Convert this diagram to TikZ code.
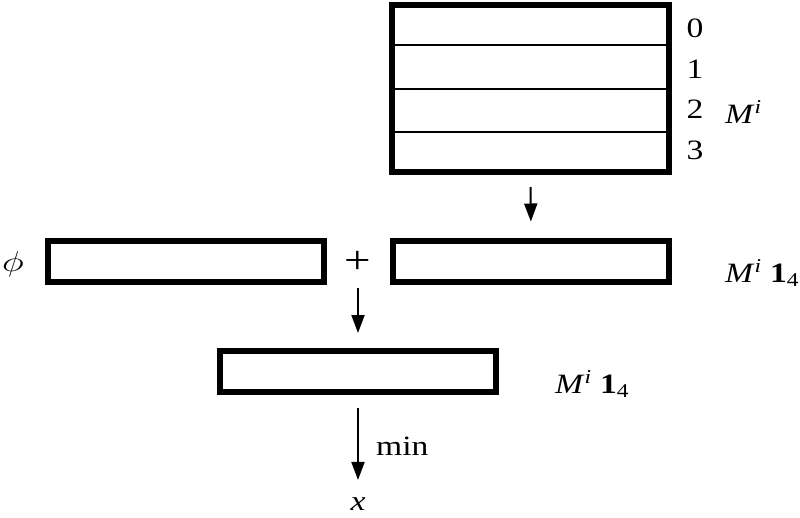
\documentclass[tikz,border=0pt]{standalone}
\usepackage{fontspec}
\setmainfont{Liberation Serif}[FakeStretch=1.2]
\usetikzlibrary{arrows.meta,calc}
\newcommand{\mione}{\textit{M}\textsuperscript{\textit{i}}\hspace{0.3em}\textbf{1}\textsubscript{4}}
\begin{document}
\begin{tikzpicture}[x=1pt,y=-1pt,
  every node/.style={font=\fontsize{28}{33}\selectfont, inner sep=0pt},
  vecbox/.style={draw, line width=6pt, minimum width=276pt, minimum height=41pt, inner sep=0pt},
  arr/.style={line width=2pt, -{Triangle[length=18pt,width=13pt]}},
  lbl/.style={anchor=base west}]
\useasboundingbox (0,0) rectangle (800,517);
% top matrix
\node[draw, line width=6pt, minimum width=277pt, minimum height=167pt] (mat) at (530.5,88.5) {};
\foreach \f in {0.25,0.5,0.75}
  \draw[line width=2pt] ($(mat.north west)!\f!(mat.south west)+(3,0)$) -- ($(mat.north east)!\f!(mat.south east)+(-3,0)$);
\node[anchor=base] (r0) at (695,37) {0};
\node[anchor=base] (r1) at (695,78) {1};
\node[anchor=base] (r2) at (695,118) {2};
\node[anchor=base] (r3) at (695,159) {3};
\node[lbl] (mlab) at (725,123) {\textit{M}\textsuperscript{\textit{i}}};
% middle row
\node[vecbox] (phi) at (185.5,261) {};
\node (philab) at (13,264) {\scalebox{1.5}[1.15]{$\phi$}};
\node (plus) at (358,262) {\scalebox{1.4}{+}};
\node[vecbox] (ones) at (531,261) {};
\node[lbl] (oneslab) at (725,282) {\mione};
% bottom
\node[vecbox] (bot) at (358,371.5) {};
\node[lbl] (botlab) at (555,393) {\mione};
\node[anchor=base] (xl) at (358,510) {\textit{x}};
% arrows
\draw[arr, shorten <=12pt, shorten >=16pt] (mat.south) -- (ones.north);
\draw[arr, shorten <=26pt, shorten >=15pt] (plus.center) -- (bot.north);
\draw[arr, shorten <=13pt, shorten >=17pt] (bot.south) -- (xl.north);
\node[lbl] (minlab) at (376,455) {min};
\end{tikzpicture}
\end{document}
